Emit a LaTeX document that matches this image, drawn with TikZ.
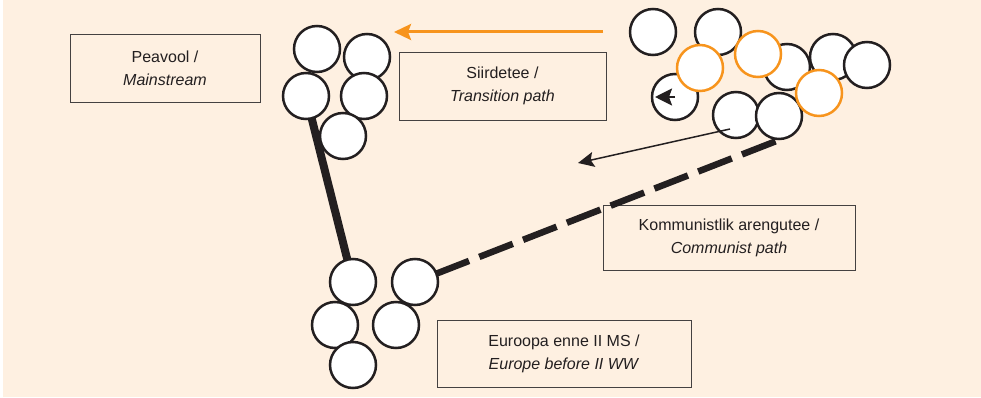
\documentclass[tikz,border=0pt]{standalone}
\usepackage{fontspec}
\setmainfont{Liberation Sans}
\usetikzlibrary{arrows.meta}
\definecolor{cream}{RGB}{254,240,225}
\definecolor{amber}{RGB}{247,148,29}
\definecolor{ink}{RGB}{35,31,32}
\begin{document}
\begin{tikzpicture}
  [x=1pt,y=-1pt,every node/.style={inner sep=0pt,outer sep=0pt},
   ball/.style={circle,minimum size=46pt,draw=ink,line width=2.5pt,fill=white},
   hot/.style={ball,draw=amber},
   textbox/.style={draw=ink!85,line width=0.9pt,align=center,text=ink,
     font=\fontsize{16}{23}\selectfont}]
  \useasboundingbox[fill=white] (0,0) rectangle (981,398);
  \fill[cream] (3,0) rectangle (981,397);

  % captions
  \node[textbox,minimum width=190pt,minimum height=68pt] (main) at (165,68) {Peavool /\\ \textit{Mainstream}};
  \node[textbox,minimum width=207pt,minimum height=68pt] (trans) at (502.5,86) {Siirdetee /\\ \textit{Transition path}};
  \node[textbox,minimum width=252pt,minimum height=65pt] (comm) at (729,237.5) {Kommunistlik arengutee /\\ \textit{Communist path}};
  \node[textbox,minimum width=254pt,minimum height=67pt] (euro) at (564,353.5) {Euroopa enne II MS /\\ \textit{Europe before II WW}};

  % coordinates for free ends
  \coordinate (L3c) at (306,96);
  \coordinate (B1c) at (353,282);
  \coordinate (B2c) at (415,282);
  \coordinate (Hfoot) at (779,140);
  \draw[ink,line width=8pt] (L3c) -- (B1c);
  \draw[ink,line width=6.5pt,dash pattern=on 36pt off 11pt,dash phase=25pt] (B2c) -- (Hfoot);

  % mainstream cluster
  \node[ball] (L1) at (317,49) {};
  \node[ball] (L2) at (367,57) {};
  \node[ball] (L3) at (306,96) {};
  \node[ball] (L4) at (364,96) {};
  \node[ball] (L5) at (343,136) {};

  % pre-war cluster
  \node[ball] (B1) at (353,282) {};
  \node[ball] (B2) at (415,282) {};
  \node[ball] (B3) at (335,325) {};
  \node[ball] (B4) at (396,325) {};
  \node[ball] (B5) at (353,365) {};

  % transition cluster
  \node[ball] (A) at (653,32) {};
  \node[ball] (B) at (718,32) {};
  \node[ball] (C) at (787,67) {};
  \node[ball] (D) at (833,57) {};
  \node[ball] (E) at (867,65) {};
  \node[ball] (F) at (675,97) {};
  \node[ball] (G) at (736,115) {};
  \node[ball] (H) at (779,116) {};
  \node[hot] (O1) at (700,68) {};
  \node[hot] (O2) at (758,54) {};
  \node[hot] (O3) at (819,93) {};

  % arrows
  \coordinate (Ftip) at (655,97);
  \coordinate (Gstart) at (730,129);
  \coordinate (commtip) at (578,163);
  \coordinate (orstart) at (603,32);
  \coordinate (ortip) at (394,32);
  \draw[ink,line width=2.5pt,-{Stealth[length=17pt,width=17pt,inset=3pt]}] (F.center) -- (Ftip);
  \draw[ink,line width=1.5pt,-{Stealth[length=16pt,width=15pt,inset=3pt]}] (Gstart) -- (commtip);
  \draw[amber,line width=3pt,-{Stealth[length=17pt,width=16pt,inset=3pt]}] (orstart) -- (ortip);
\end{tikzpicture}
\end{document}
